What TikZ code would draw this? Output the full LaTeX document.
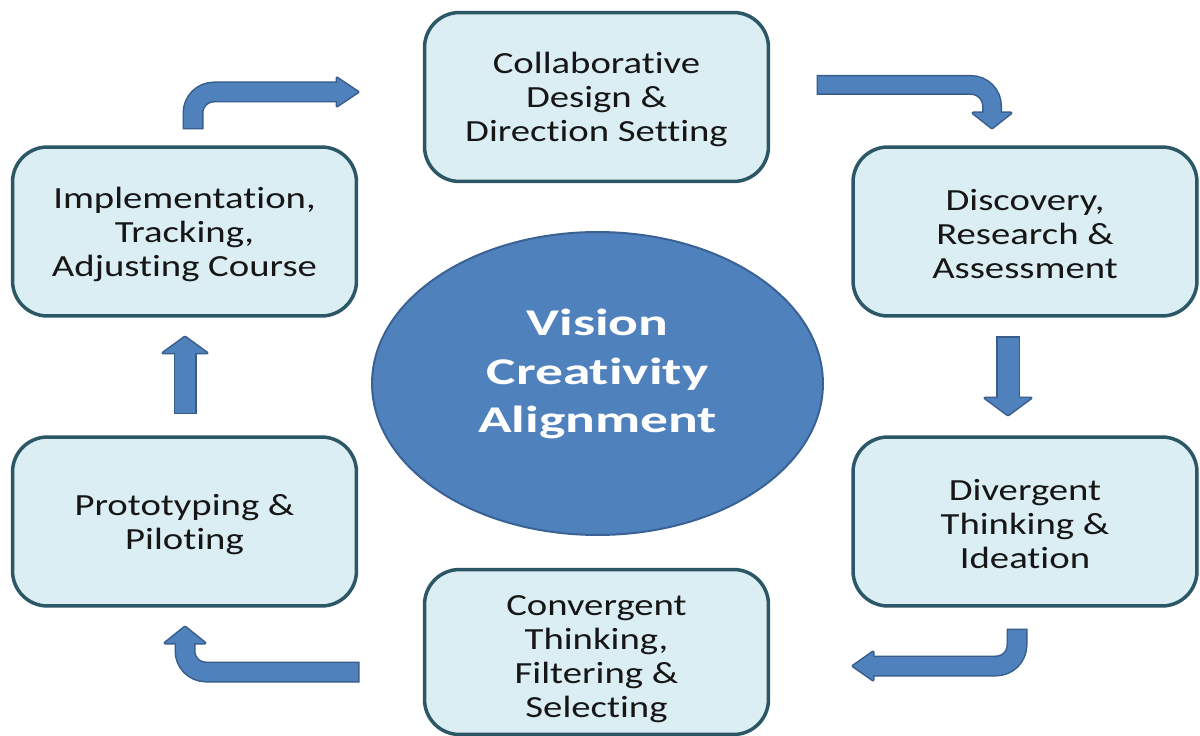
\documentclass[tikz,border=0pt]{standalone}
\usepackage{fontspec}
\usetikzlibrary{shapes.geometric}
\newfontfamily\stagefont[FakeStretch=1.26,Ligatures={NoCommon}]{Carlito}
\newfontfamily\hubfont[FakeStretch=1.47,Ligatures={NoCommon}]{Carlito}
\definecolor{stagefill}{RGB}{219,238,243}
\definecolor{stageedge}{RGB}{44,87,102}
\definecolor{hubfill}{RGB}{79,129,189}
\definecolor{hubedge}{RGB}{58,98,148}
\definecolor{arrowbody}{RGB}{79,129,189}
\definecolor{arrowedge}{RGB}{56,93,138}
\definecolor{stagetext}{RGB}{22,22,22}

% invisible strut that lowers a text block a little
\newcommand{\topgap}[1]{\rule{0pt}{#1}}

% block arrow: #1 shaft width, #2 shaft path (tail ... head base), #3 head triangle
\newcommand{\blockarrow}[3]{%
  \draw[arrowedge, line width=#1+0.06cm, rounded corners=0.42cm, shorten <=-0.03cm] #2;
  \filldraw[arrowedge, line width=0.06cm, line join=round] #3 -- cycle;
  \draw[arrowbody, line width=#1, rounded corners=0.42cm] #2;
  \fill[arrowbody] #3 -- cycle;
}

\begin{document}
\begin{tikzpicture}[x=0.02cm, y=-0.02cm,
  stage/.style={draw=stageedge, fill=stagefill, line width=0.07cm,
    rounded corners=0.7cm, minimum width=6.88cm, minimum height=3.38cm,
    align=center, text=stagetext, inner sep=0pt,
    font=\stagefont\fontsize{17.5}{19.3}\selectfont},
  hub/.style={ellipse, draw=hubedge, fill=hubfill, line width=0.04cm,
    minimum width=9.02cm, minimum height=6.06cm, inner sep=0pt},
  hubtext/.style={align=center, text=white, inner sep=0pt,
    font=\hubfont\bfseries\fontsize{21.5}{27.8}\selectfont}]

\useasboundingbox[fill=white] (0,0) rectangle (1200,736);

% central hub
\node[hub] (hub) at (597.5,383.5) {};
\node[hubtext] (hublabel) at (597.5,374) {Vision\\Creativity\\Alignment};

% the six stages of the cycle
\node[stage] (design)  at (596.5,97)    {\topgap{0.54cm}Collaborative\\Design \&\\Direction Setting};
\node[stage] (discover) at (1025,231.5) {\topgap{0.54cm}Discovery,\\Research \&\\Assessment};
\node[stage] (diverge) at (1025,521.5)  {\topgap{0.54cm}Divergent\\Thinking \&\\Ideation};
\node[stage, minimum height=3.3cm] (converge) at (596.5,652) {\topgap{0.7cm}Convergent\\Thinking,\\Filtering \&\\Selecting};
\node[stage] (proto)   at (184.5,521.5) {\topgap{0.54cm}Prototyping \&\\Piloting};
\node[stage] (impl)    at (184.5,231.5) {\topgap{0.54cm}Implementation,\\Tracking,\\Adjusting Course};

% block arrows running clockwise between the stages
\blockarrow{0.36cm}{(193,128) -- (193,92) -- (340,92)}{(337,78) -- (358,92) -- (337,106)}
\blockarrow{0.34cm}{(818,85) -- (992,85) -- (992,116)}{(973,113) -- (992,128) -- (1011,113)}
\blockarrow{0.42cm}{(1008,338) -- (1008,401)}{(985,398) -- (1008,415) -- (1031,398)}
\blockarrow{0.36cm}{(1017,630) -- (1017,666) -- (870,666)}{(873,652) -- (853,666) -- (873,680)}
\blockarrow{0.36cm}{(358,672) -- (185,672) -- (185,640)}{(165,643) -- (185,627) -- (205,643)}
\blockarrow{0.40cm}{(185,413) -- (185,350)}{(163,353) -- (185,337) -- (207,353)}

\end{tikzpicture}
\end{document}
